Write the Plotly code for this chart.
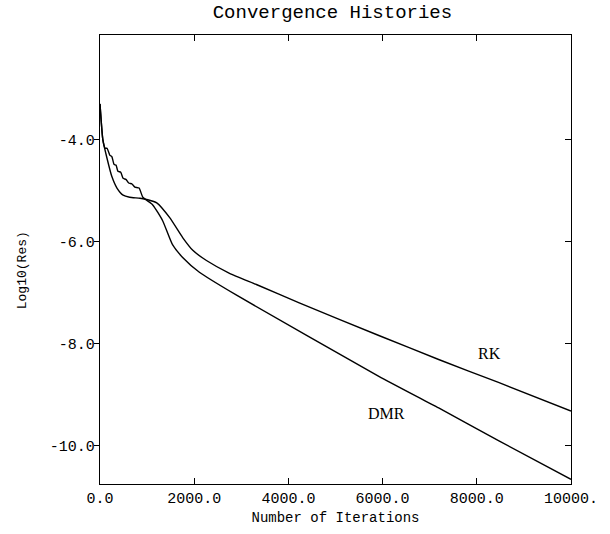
import plotly.graph_objects as go

# Data
rk_iter = [0, 60, 150, 250, 360, 490, 630, 850, 1015, 1205, 1480, 1755, 1970,
           2260, 2750, 3320, 4230, 5920, 7190, 8460, 10000]
rk_val = [-3.30, -4.00, -4.37, -4.72, -4.95, -5.09, -5.13, -5.15, -5.18, -5.24, -5.53,
          -5.92, -6.17, -6.37, -6.62, -6.84, -7.20, -7.84, -8.31, -8.76, -9.32]

dmr_iter = [0, 60, 110, 150, 210, 250, 300, 340, 380, 440, 490, 550, 610, 680, 740, 830,
            910, 1120, 1330, 1540, 1755, 2110, 2900, 5920, 7190, 8460, 10000]
dmr_val = [-3.30, -4.00, -4.17, -4.17, -4.31, -4.33, -4.49, -4.50, -4.62, -4.64, -4.76,
           -4.78, -4.85, -4.87, -4.93, -4.95, -5.13, -5.28, -5.59, -6.06, -6.31, -6.60,
           -7.05, -8.64, -9.26, -9.90, -10.66]

x_ticks = [0, 2000, 4000, 6000, 8000, 10000]
x_tick_text = ["0.0", "2000.0", "4000.0", "6000.0", "8000.0", "10000."]
y_ticks = [-4, -6, -8, -10]
y_tick_text = ["-4.0", "-6.0", "-8.0", "-10.0"]

mono = "Liberation Mono"
line = dict(color="black", width=1.4, shape="spline", smoothing=0.5)

fig = go.Figure()
fig.add_trace(go.Scatter(x=rk_iter, y=rk_val, mode="lines", line=line, name="RK",
                         showlegend=False))
fig.add_trace(go.Scatter(x=dmr_iter, y=dmr_val, mode="lines", line=line, name="DMR",
                         showlegend=False))
# invisible trace to anchor the right-hand axis
fig.add_trace(go.Scatter(x=[0], y=[-4], mode="markers", marker=dict(opacity=0),
                         yaxis="y2", showlegend=False, hoverinfo="skip"))

fig.update_layout(
    width=610, height=534,
    margin=dict(l=100, r=37, t=35, b=46),
    paper_bgcolor="white", plot_bgcolor="white",
    title=dict(text="Convergence Histories", x=0.545, xanchor="center", y=0.978,
               yanchor="middle", font=dict(family=mono, size=19, color="black")),
    xaxis=dict(range=[0, 10000], tickvals=x_ticks, ticktext=x_tick_text,
               ticks="inside", ticklen=6, tickcolor="black", mirror="ticks",
               showline=True, linecolor="black", linewidth=1.4, showgrid=False,
               zeroline=False, tickfont=dict(family=mono, size=15, color="black"),
               title=dict(text="Number of Iterations", standoff=4,
                          font=dict(family=mono, size=14, color="black"))),
    yaxis=dict(range=[-10.75, -1.95], tickvals=y_ticks, ticktext=y_tick_text,
               ticks="outside", ticklen=5, tickcolor="black", ticklabelstandoff=-4,
               showline=True, linecolor="black", linewidth=1.4, showgrid=False,
               zeroline=False, tickfont=dict(family=mono, size=15, color="black"),
               title=None),
    yaxis2=dict(range=[-10.75, -1.95], overlaying="y", side="right", tickvals=y_ticks,
                showticklabels=False, ticks="inside", ticklen=6, tickcolor="black",
                showline=True, linecolor="black", linewidth=1.4, showgrid=False,
                zeroline=False),
    annotations=[
        dict(text="RK", x=8266, y=-8.19, xref="x", yref="y", showarrow=False,
             font=dict(family="Liberation Serif", size=16, color="black")),
        dict(text="DMR", x=6089, y=-9.36, xref="x", yref="y", showarrow=False,
             font=dict(family="Liberation Serif", size=16, color="black")),
        dict(text="Log10(Res)", x=(23 - 100) / 473, y=(488 - 272) / 453,
             xref="paper", yref="paper", showarrow=False, xanchor="center",
             yanchor="middle", textangle=-90,
             font=dict(family=mono, size=13, color="black")),
    ],
)

fig.write_html("out.html")
